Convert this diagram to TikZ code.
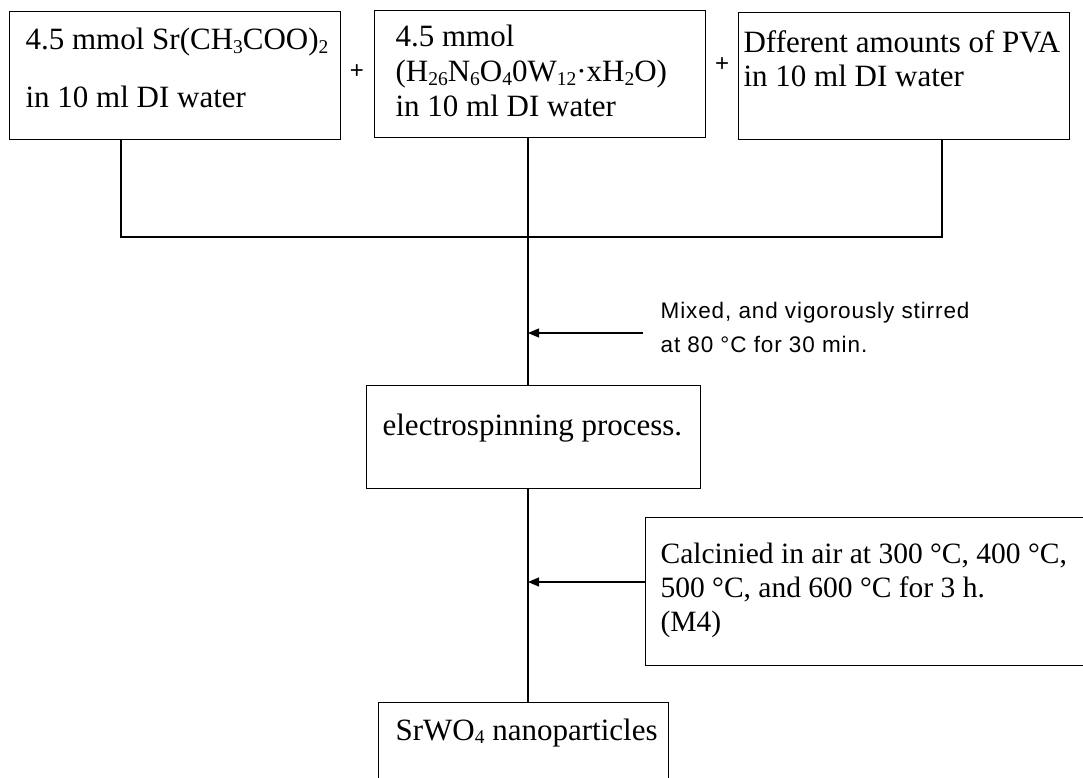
\documentclass[tikz,border=0pt]{standalone}
\usepackage{fontspec}
\usepackage{graphicx}
\setmainfont{Liberation Serif}
\newfontfamily\sansf[LetterSpace=4]{Liberation Sans}
\newfontfamily\plainsans{Liberation Sans}
\usetikzlibrary{arrows.meta}
\newcommand\subn[1]{\raisebox{-0.1em}{\fontsize{19.5}{19.5}\selectfont #1}}
\newcommand\lns[1]{\begin{tabular}[t]{@{}l@{}}#1\end{tabular}}
\begin{document}
\begin{tikzpicture}[x=1pt,y=-1pt, line width=1.2pt,
  box/.style={draw, rectangle, inner sep=0pt, anchor=north west},
  serif/.style={font=\fontsize{31}{35}\selectfont, inner sep=0pt, anchor=base west},
  sanstxt/.style={font=\sansf\fontsize{22.5}{34}\selectfont, inner sep=0pt, anchor=base west},
  plus/.style={font=\plainsans\fontsize{24}{24}\selectfont, inner sep=0pt},
  arr/.style={-{Triangle[length=11pt,width=9pt]}}]
\clip (0,0) rectangle (1083,778);
\fill[white] (0,0) rectangle (1083,778);
% boxes
\node[box, minimum width=331pt, minimum height=128pt] (b1) at (9,11) {};
\node[box, minimum width=331pt, minimum height=127pt] (b2) at (374,10) {};
\node[box, minimum width=331pt, minimum height=127pt] (b3) at (738,12) {};
\node[box, minimum width=334pt, minimum height=103pt] (e) at (366,385) {};
\node[box, minimum width=500pt, minimum height=148pt] (c) at (645,517) {};
\node[box, minimum width=290pt, minimum height=120pt] (f) at (378,702) {};
% texts
\node[serif] (t1) at (25,50) {\lns{4.5 mmol Sr(CH\subn{3}COO)\subn{2}\\[23pt] in 10 ml DI water}};
\node[serif] (t2) at (395,47) {\lns{4.5 mmol\\ (H\subn{26}N\subn{6}O\subn{4}0W\subn{12}\textperiodcentered xH\subn{2}O)\\ in 10 ml DI water}};
\node[serif, font=\fontsize{31}{34}\selectfont] (t3) at (743,53) {\lns{Dfferent amounts of PVA\\ in 10 ml DI water}};
\node[serif] (te) at (382,435) {electrospinning process.};
\node[sanstxt] (tm) at (660,318) {\lns{Mixed, and vigorously stirred\\ at 80 °C for 30 min.}};
\node[serif, font=\fontsize{29.5}{34}\selectfont] (tc) at (660,563) {\lns{Calcinied in air at 300 °C, 400 °C,\\ 500 °C, and 600 °C for 3 h.\\ (M4)}};
\node[serif] (tf) at (395,740) {SrWO\subn{4} nanoparticles};
\node[plus] (p1) at (357,72) {+};
\node[plus] (p2) at (722,65) {+};
% connectors
\coordinate (j1) at (121,237);
\coordinate (j2) at (528,237);
\coordinate (j3) at (942,237);
\coordinate (a1) at (643,333);
\coordinate (a2) at (645,582);
\draw (b1.south -| j1) -- (j1) -- (j3) -- (b3.south -| j3);
\draw (b2.south -| j2) -- (j2) -- (e.north -| j2);
\draw (e.south -| j2) -- (f.north -| j2);
\draw[arr] (a1) -- (j2 |- a1);
\draw[arr] (c.west |- a2) -- (j2 |- a2);
\end{tikzpicture}
\end{document}
